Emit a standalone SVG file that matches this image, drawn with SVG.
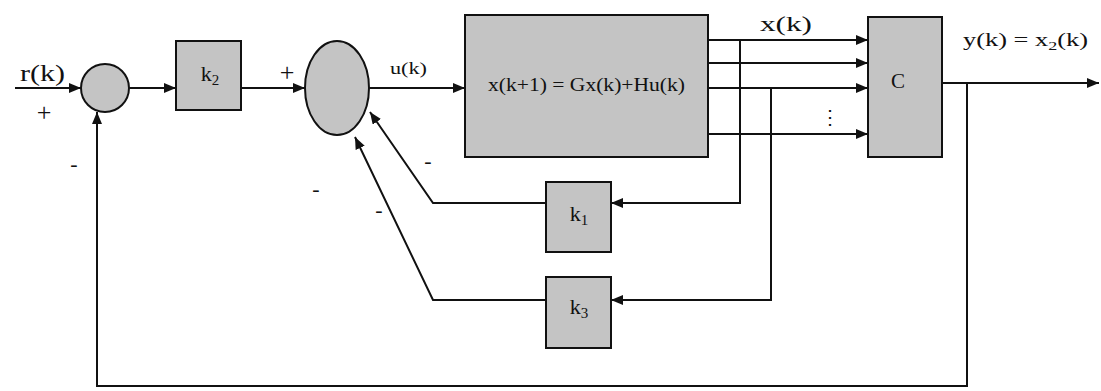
<svg xmlns="http://www.w3.org/2000/svg" width="1101" height="391" viewBox="0 0 1101 391">
<style>
.blk{fill:#c4c4c4;stroke:#111;stroke-width:2}
.ln{fill:none;stroke:#111;stroke-width:2}
.t{font-family:"Liberation Serif","Times New Roman",serif;fill:#111}
</style>
<defs>
<marker id="ah" viewBox="0 0 12 10" refX="12" refY="5" markerWidth="12" markerHeight="10" markerUnits="userSpaceOnUse" orient="auto">
<path d="M0,0 L12,5 L0,10 z" fill="#111"/>
</marker>
</defs>
<rect width="1101" height="391" fill="#fff"/>
<g id="sum1"><circle class="blk" cx="105" cy="88" r="24"/></g>
<g id="k2"><rect class="blk" x="176" y="41" width="65" height="69"/><text class="t" x="210" y="81" font-size="22" text-anchor="middle">k<tspan font-size="15" dy="4">2</tspan></text></g>
<g id="sum2"><ellipse class="blk" cx="337" cy="88" rx="32" ry="47"/></g>
<g id="plant"><rect class="blk" x="465" y="15" width="243" height="142"/><text class="t" x="488" y="91" font-size="19" textLength="197" lengthAdjust="spacingAndGlyphs">x(k+1) = Gx(k)+Hu(k)</text></g>
<g id="C"><rect class="blk" x="868" y="17" width="74" height="140"/><text class="t" x="898" y="88" font-size="21" text-anchor="middle">C</text></g>
<g id="k1"><rect class="blk" x="546" y="182" width="65" height="70"/><text class="t" x="579" y="221" font-size="22" text-anchor="middle">k<tspan font-size="15" dy="4">1</tspan></text></g>
<g id="k3"><rect class="blk" x="546" y="277" width="65" height="71"/><text class="t" x="579" y="314" font-size="22" text-anchor="middle">k<tspan font-size="15" dy="4">3</tspan></text></g>
<g id="connectors">
<line class="ln" x1="15" y1="88" x2="81" y2="88" marker-end="url(#ah)"/>
<line class="ln" x1="129" y1="88" x2="176" y2="88" marker-end="url(#ah)"/>
<line class="ln" x1="241" y1="88" x2="305" y2="88" marker-end="url(#ah)"/>
<line class="ln" x1="369" y1="88" x2="465" y2="88" marker-end="url(#ah)"/>
<line class="ln" x1="708" y1="40" x2="868" y2="40" marker-end="url(#ah)"/>
<line class="ln" x1="708" y1="63" x2="868" y2="63" marker-end="url(#ah)"/>
<line class="ln" x1="708" y1="88" x2="868" y2="88" marker-end="url(#ah)"/>
<line class="ln" x1="708" y1="134" x2="868" y2="134" marker-end="url(#ah)"/>
<line class="ln" x1="942" y1="83" x2="1099" y2="83" marker-end="url(#ah)"/>
<polyline class="ln" points="740,40 740,203 611,203" marker-end="url(#ah)"/>
<polyline class="ln" points="771,88 771,300 611,300" marker-end="url(#ah)"/>
<polyline class="ln" points="546,203 433,203 370,112" marker-end="url(#ah)"/>
<polyline class="ln" points="546,300 433,300 355,137" marker-end="url(#ah)"/>
<polyline class="ln" points="967,83 967,386 97,386 97,112" marker-end="url(#ah)"/>
</g>
<g id="labels">
<text class="t" x="20" y="81" font-size="24" textLength="45" lengthAdjust="spacingAndGlyphs">r(k)</text>
<text class="t" x="44" y="121" font-size="26" text-anchor="middle">+</text>
<text class="t" x="74" y="171" font-size="22" text-anchor="middle">-</text>
<text class="t" x="287" y="81" font-size="26" text-anchor="middle">+</text>
<text class="t" x="390" y="74" font-size="17" textLength="37" lengthAdjust="spacingAndGlyphs">u(k)</text>
<text class="t" x="760" y="31" font-size="22" textLength="52" lengthAdjust="spacingAndGlyphs">x(k)</text>
<text class="t" x="963" y="46" font-size="19" textLength="125" lengthAdjust="spacingAndGlyphs">y(k) = x<tspan font-size="13" dy="4">2</tspan><tspan dy="-4">(k)</tspan></text>
<text class="t" x="830" y="124" font-size="20" text-anchor="middle">⋮</text>
<text class="t" x="428" y="168" font-size="22" text-anchor="middle">-</text>
<text class="t" x="316" y="196" font-size="22" text-anchor="middle">-</text>
<text class="t" x="379" y="217" font-size="22" text-anchor="middle">-</text>
</g>
</svg>
